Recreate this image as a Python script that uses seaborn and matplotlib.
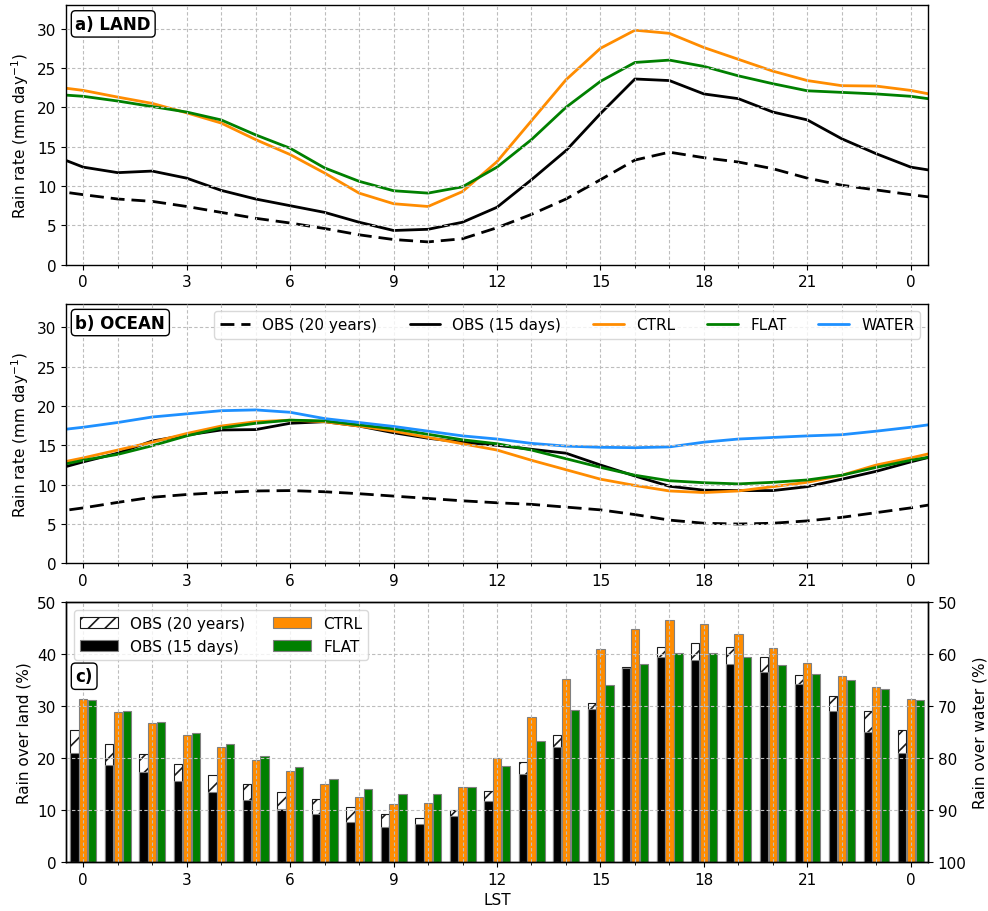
import numpy as np
import matplotlib
matplotlib.use("Agg")
import matplotlib.pyplot as plt
from matplotlib.ticker import MultipleLocator, FuncFormatter
import seaborn as sns

# Diurnal composites, hours 0..23 LST
hours = np.arange(24)

land_obs20 = [8.9, 8.35, 8.05, 7.4, 6.65, 5.9, 5.3, 4.6, 3.8, 3.2, 2.9, 3.3,
              4.7, 6.4, 8.35, 10.8, 13.3, 14.3, 13.6, 13.05, 12.2, 11.0, 10.1, 9.5]
land_obs15 = [12.4, 11.7, 11.9, 11.0, 9.45, 8.35, 7.5, 6.65, 5.4, 4.35, 4.5, 5.4,
              7.3, 10.8, 14.5, 19.2, 23.6, 23.4, 21.7, 21.1, 19.4, 18.4, 16.0, 14.1]
land_ctrl = [22.15, 21.3, 20.5, 19.3, 18.0, 15.9, 14.0, 11.65, 9.1, 7.75, 7.4, 9.3,
             13.1, 18.3, 23.5, 27.5, 29.8, 29.4, 27.6, 26.1, 24.6, 23.4, 22.75, 22.7]
land_flat = [21.4, 20.8, 20.1, 19.4, 18.4, 16.5, 14.8, 12.3, 10.6, 9.4, 9.1, 9.9,
             12.4, 15.9, 20.0, 23.3, 25.7, 26.0, 25.2, 24.0, 23.0, 22.1, 21.9, 21.7]

ocean_obs20 = [7.05, 7.75, 8.4, 8.75, 9.0, 9.2, 9.25, 9.1, 8.85, 8.55, 8.25, 7.95,
               7.7, 7.5, 7.15, 6.8, 6.2, 5.5, 5.1, 5.0, 5.1, 5.4, 5.85, 6.45]
ocean_obs15 = [12.9, 14.0, 15.55, 16.3, 16.95, 17.0, 17.8, 18.0, 17.45, 16.6, 15.9, 15.4,
               15.0, 14.5, 14.0, 12.5, 11.1, 9.8, 9.3, 9.25, 9.25, 9.75, 10.7, 11.7]
ocean_ctrl = [13.4, 14.4, 15.4, 16.5, 17.45, 18.0, 18.2, 18.0, 17.45, 16.8, 16.0, 15.2,
              14.4, 13.1, 11.9, 10.7, 9.9, 9.2, 9.0, 9.2, 9.75, 10.3, 11.2, 12.5]
ocean_flat = [13.1, 13.85, 14.95, 16.2, 17.2, 17.8, 18.2, 18.1, 17.6, 17.1, 16.4, 15.7,
              15.2, 14.4, 13.3, 12.2, 11.2, 10.5, 10.25, 10.1, 10.3, 10.6, 11.2, 12.2]
ocean_water = [17.3, 17.9, 18.6, 19.0, 19.4, 19.5, 19.2, 18.4, 17.9, 17.4, 16.8, 16.2,
               15.8, 15.25, 14.9, 14.75, 14.7, 14.8, 15.4, 15.8, 16.0, 16.2, 16.35, 16.8]

# Fraction of rain falling over land (%), hours 0..24
frac_obs20 = [25.45, 22.75, 20.75, 18.8, 16.7, 15.0, 13.5, 12.15, 10.65, 9.2, 8.5, 10.0, 13.75,
              19.3, 24.4, 30.65, 37.5, 41.45, 42.2, 41.45, 39.5, 36.0, 32.0, 29.0, 25.45]
frac_obs15 = [20.9, 18.6, 17.35, 15.6, 13.5, 11.9, 10.3, 9.2, 7.7, 6.8, 7.25, 8.8, 11.7,
              17.0, 22.2, 29.55, 37.3, 39.4, 38.9, 38.2, 36.5, 34.2, 29.05, 25.05, 20.9]
frac_ctrl = [31.3, 28.9, 26.7, 24.55, 22.2, 19.65, 17.5, 15.0, 12.5, 11.1, 11.4, 14.4, 20.1,
             28.0, 35.2, 41.05, 44.9, 46.65, 45.9, 43.95, 41.3, 38.4, 35.8, 33.7, 31.3]
frac_flat = [31.2, 29.0, 27.0, 24.75, 22.75, 20.4, 18.2, 15.9, 14.1, 13.05, 13.05, 14.5, 18.4,
             23.3, 29.2, 34.1, 38.2, 40.3, 40.2, 39.4, 37.85, 36.25, 35.1, 33.35, 31.2]

ORANGE = "darkorange"
GREEN = "green"
BLUE = "dodgerblue"

sns.set_style("ticks")
plt.rcParams.update({
    "font.family": ["DejaVu Sans"],
    "font.size": 11,
    "axes.linewidth": 1.0,
    "axes.edgecolor": "black",
    "axes.labelcolor": "black",
    "text.color": "black",
    "xtick.color": "black",
    "ytick.color": "black",
    "xtick.direction": "out",
    "ytick.direction": "out",
    "hatch.linewidth": 1.2,
})

# extend the daily cycle by one hour on each side so lines reach the frame
ext = np.arange(-1, 26)
wrap = ext % 24


def cyc(vals):
    return np.asarray(vals)[wrap]


fig, axes = plt.subplots(3, 1, figsize=(9.88, 9.12), dpi=100)
fig.subplots_adjust(left=0.0668, right=0.9393, top=0.9934, bottom=0.0537, hspace=0.15)

GRID = dict(ls=(0, (3, 2)), color="#bdbdbd", lw=0.8)


def style_axis(ax):
    ax.set_xlim(-0.5, 24.5)
    ax.xaxis.set_major_locator(MultipleLocator(3))
    ax.xaxis.set_minor_locator(MultipleLocator(1))
    ax.xaxis.set_major_formatter(FuncFormatter(lambda v, p: f"{int(round(v)) % 24}"))
    ax.grid(which="both", axis="x", **GRID)
    ax.grid(which="major", axis="y", **GRID)
    ax.set_axisbelow(False)
    for s in ax.spines.values():
        s.set_visible(True)
        s.set_color("black")


def panel_label(ax, text, y):
    ax.text(0.011, y, text, transform=ax.transAxes, ha="left", va="top",
            fontweight="bold", fontsize=12, zorder=10,
            bbox=dict(boxstyle="round,pad=0.25", fc="white", ec="black", lw=1.0))


def draw_lines(ax, obs20, obs15, ctrl, flat, water=None):
    kw = dict(ax=ax, lw=2, legend=False)
    sns.lineplot(x=ext, y=cyc(obs20), color="black", **kw)
    ax.lines[-1].set_dashes((5, 2.5))
    sns.lineplot(x=ext, y=cyc(obs15), color="black", **kw)
    sns.lineplot(x=ext, y=cyc(ctrl), color=ORANGE, **kw)
    sns.lineplot(x=ext, y=cyc(flat), color=GREEN, **kw)
    if water is not None:
        sns.lineplot(x=ext, y=cyc(water), color=BLUE, **kw)
    names = ["OBS (20 years)", "OBS (15 days)", "CTRL", "FLAT", "WATER"]
    for ln, nm in zip(ax.lines, names):
        ln.set_label(nm)


# a) LAND
ax = axes[0]
draw_lines(ax, land_obs20, land_obs15, land_ctrl, land_flat)
style_axis(ax)
ax.set_ylim(0, 33)
ax.yaxis.set_major_locator(MultipleLocator(5))
ax.set_ylabel("Rain rate (mm day$^{-1}$)")
ax.set_xlabel("")
panel_label(ax, "a) LAND", 0.962)

# b) OCEAN
ax = axes[1]
draw_lines(ax, ocean_obs20, ocean_obs15, ocean_ctrl, ocean_flat, ocean_water)
style_axis(ax)
ax.set_ylim(0, 33)
ax.yaxis.set_major_locator(MultipleLocator(5))
ax.set_ylabel("Rain rate (mm day$^{-1}$)")
ax.set_xlabel("")
panel_label(ax, "b) OCEAN", 0.962)
ax.legend(loc="upper right", ncol=5, frameon=True, framealpha=0.8,
          edgecolor="#d0d0d0", fontsize=11, columnspacing=2.1)

# c) fraction of rain over land / water
ax = axes[2]
xb = np.arange(25)
w = 0.24
ax.bar(xb - 0.25, frac_obs20, w, color="white", edgecolor="0.1", hatch="//",
       lw=0.8, label="OBS (20 years)")
ax.bar(xb - 0.25, frac_obs15, w, color="black", edgecolor="gray", lw=0.8,
       label="OBS (15 days)")
ax.bar(xb, frac_ctrl, w, color=ORANGE, edgecolor="gray", lw=0.8, label="CTRL")
ax.bar(xb + 0.26, frac_flat, w, color=GREEN, edgecolor="gray", lw=0.8, label="FLAT")
style_axis(ax)
ax.set_ylim(0, 50)
ax.yaxis.set_major_locator(MultipleLocator(10))
ax.set_ylabel("Rain over land (%)")
ax.set_xlabel("LST")
ax.legend(loc="upper left", ncol=2, frameon=True, framealpha=0.8,
          edgecolor="#d0d0d0", fontsize=11, handlelength=2.5, columnspacing=1.8)
panel_label(ax, "c)", 0.75)

ax2 = ax.twinx()
ax2.set_ylim(100, 50)
ax2.yaxis.set_major_locator(MultipleLocator(10))
ax2.set_ylabel("Rain over water (%)")
ax2.grid(False)

fig.savefig("out.png", dpi=100)
